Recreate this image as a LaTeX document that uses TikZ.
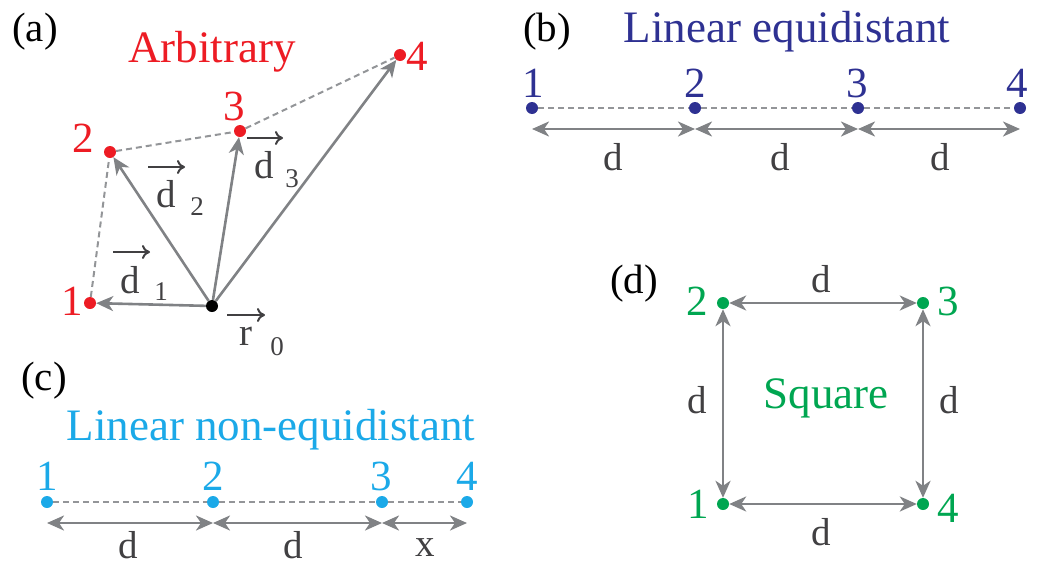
\documentclass[tikz,border=0pt]{standalone}
\usepackage{fontspec}
\setmainfont{Liberation Serif}
\usetikzlibrary{arrows.meta,calc}
\definecolor{cred}{HTML}{ED1C24}
\definecolor{cnavy}{HTML}{2E3192}
\definecolor{ccyan}{HTML}{1BA9E8}
\definecolor{cgreen}{HTML}{00A651}
\definecolor{tgray}{HTML}{414042}
\definecolor{agray}{HTML}{808285}
\definecolor{dgray}{HTML}{939598}
\newcommand\fsz[1]{\fontsize{#1}{#1}\selectfont}
\begin{document}
\begin{tikzpicture}[x=1pt,y=-1pt,
  txt/.style={inner sep=0pt,anchor=base},
  panel/.style={txt,font=\fsz{41},text=black},
  title/.style={txt,font=\fsz{45}},
  num/.style={txt,font=\fsz{43}},
  dlab/.style={txt,font=\fsz{39},text=tgray},
  sublab/.style={txt,font=\fsz{27},text=tgray},
  vec/.style={draw=tgray,line width=2pt,-{To[length=8pt,width=14pt]}},
  ndot/.style={circle,inner sep=0pt,minimum size=12pt},
  tip/.tip={Stealth[length=17pt,width=15pt,inset=5pt]},
  conn/.style={draw=agray,line width=2.6pt,-tip},
  dbl/.style={draw=agray,line width=2.6pt,tip-tip},
  dashline/.style={draw=dgray,line width=2pt,dash pattern=on 6pt off 4pt}]
\useasboundingbox (0,0) rectangle (1046,568);

% ---------- (a) ----------
\node[panel] (pa) at (35,41) {(a)};
\node[title,text=cred] (ta) at (212,62) {Arbitrary};
\node[ndot,fill=cred] (a1) at (90,303) {};
\node[ndot,fill=cred] (a2) at (110,152) {};
\node[ndot,fill=cred] (a3) at (240,131) {};
\node[ndot,fill=cred] (a4) at (400,55) {};
\node[ndot,fill=black] (ao) at (212,306) {};
\node[num,text=cred] (la1) at (72,315) {1};
\node[num,text=cred] (la2) at (83,152) {2};
\node[num,text=cred] (la3) at (234,120) {3};
\node[num,text=cred] (la4) at (417,70) {4};
\draw[dashline] (a1) -- (a2);
\draw[dashline] (a2) -- (a3);
\draw[dashline] (a3) -- (a4);
\draw[conn] (ao) -- (a1);
\draw[conn] (ao) -- (a2);
\draw[conn] (ao) -- (a3);
\draw[conn] (ao) -- (a4);
\node[dlab] (v1) at (130,293) {d};
\node[sublab] (v1s) at (161,300) {1};
\draw[vec] ($(v1.base)+(-17,-41)$) -- ++(37,0);
\node[dlab] (v2) at (166,207) {d};
\node[sublab] (v2s) at (197,215) {2};
\draw[vec] ($(v2.base)+(-18,-40)$) -- ++(37,0);
\node[dlab] (v3) at (264,178) {d};
\node[sublab] (v3s) at (292,187) {3};
\draw[vec] ($(v3.base)+(-17,-40)$) -- ++(36,0);
\node[dlab] (vr) at (246,345) {r};
\node[sublab] (vrs) at (277,355) {0};
\draw[vec] ($(vr.base)+(-19,-30)$) -- ++(38,0);

% ---------- (b) ----------
\node[panel] (pb) at (547,41) {(b)};
\node[title,text=cnavy] (tb) at (787,42) {Linear equidistant};
\node[ndot,fill=cnavy] (b1) at (532,108) {};
\node[ndot,fill=cnavy] (b2) at (695,108) {};
\node[ndot,fill=cnavy] (b3) at (858,108) {};
\node[ndot,fill=cnavy] (b4) at (1020,108) {};
\node[num,text=cnavy] (lb1) at (533,97) {1};
\node[num,text=cnavy] (lb2) at (695,97) {2};
\node[num,text=cnavy] (lb3) at (857,97) {3};
\node[num,text=cnavy] (lb4) at (1017,97) {4};
\draw[dashline] (b1) -- (b2);
\draw[dashline] (b2) -- (b3);
\draw[dashline] (b3) -- (b4);
\draw[dbl] ([yshift=-21pt]b1.center) -- ([yshift=-21pt]b2.center);
\draw[dbl] ([yshift=-21pt]b2.center) -- ([yshift=-21pt]b3.center);
\draw[dbl] ([yshift=-21pt]b3.center) -- ([yshift=-21pt]b4.center);
\node[dlab] (db1) at (613,170) {d};
\node[dlab] (db2) at (780,170) {d};
\node[dlab] (db3) at (940,170) {d};

% ---------- (c) ----------
\node[panel] (pc) at (44,390) {(c)};
\node[title,text=ccyan] (tc) at (271,440) {Linear non-equidistant};
\node[ndot,fill=ccyan] (c1) at (47,502) {};
\node[ndot,fill=ccyan] (c2) at (213,502) {};
\node[ndot,fill=ccyan] (c3) at (382,502) {};
\node[ndot,fill=ccyan] (c4) at (467,502) {};
\node[num,text=ccyan] (lc1) at (47,490) {1};
\node[num,text=ccyan] (lc2) at (213,490) {2};
\node[num,text=ccyan] (lc3) at (381,490) {3};
\node[num,text=ccyan] (lc4) at (467,490) {4};
\draw[dashline] (c1) -- (c2);
\draw[dashline] (c2) -- (c3);
\draw[dashline] (c3) -- (c4);
\draw[dbl] ([yshift=-21pt]c1.center) -- ([yshift=-21pt]c2.center);
\draw[dbl] ([yshift=-21pt]c2.center) -- ([yshift=-21pt]c3.center);
\draw[dbl] ([yshift=-21pt]c3.center) -- ([yshift=-21pt]c4.center);
\node[dlab] (dc1) at (128,558) {d};
\node[dlab] (dc2) at (293,558) {d};
\node[dlab] (dc3) at (425,556) {x};

% ---------- (d) ----------
\node[panel] (pd) at (634,293) {(d)};
\node[ndot,fill=cgreen] (s2) at (723,303) {};
\node[ndot,fill=cgreen] (s3) at (923,303) {};
\node[ndot,fill=cgreen] (s1) at (723,504) {};
\node[ndot,fill=cgreen] (s4) at (923,504) {};
\node[num,text=cgreen] (ls2) at (697,315) {2};
\node[num,text=cgreen] (ls3) at (948,315) {3};
\node[num,text=cgreen] (ls1) at (698,518) {1};
\node[num,text=cgreen] (ls4) at (948,522) {4};
\draw[dbl] (s2) -- (s3);
\draw[dbl] (s1) -- (s4);
\draw[dbl] (s2) -- (s1);
\draw[dbl] (s3) -- (s4);
\node[dlab] (ds1) at (821,292) {d};
\node[dlab] (ds2) at (821,545) {d};
\node[dlab] (ds3) at (697,413) {d};
\node[dlab] (ds4) at (949,413) {d};
\node[title,text=cgreen] (td) at (826,408) {Square};
\end{tikzpicture}
\end{document}
